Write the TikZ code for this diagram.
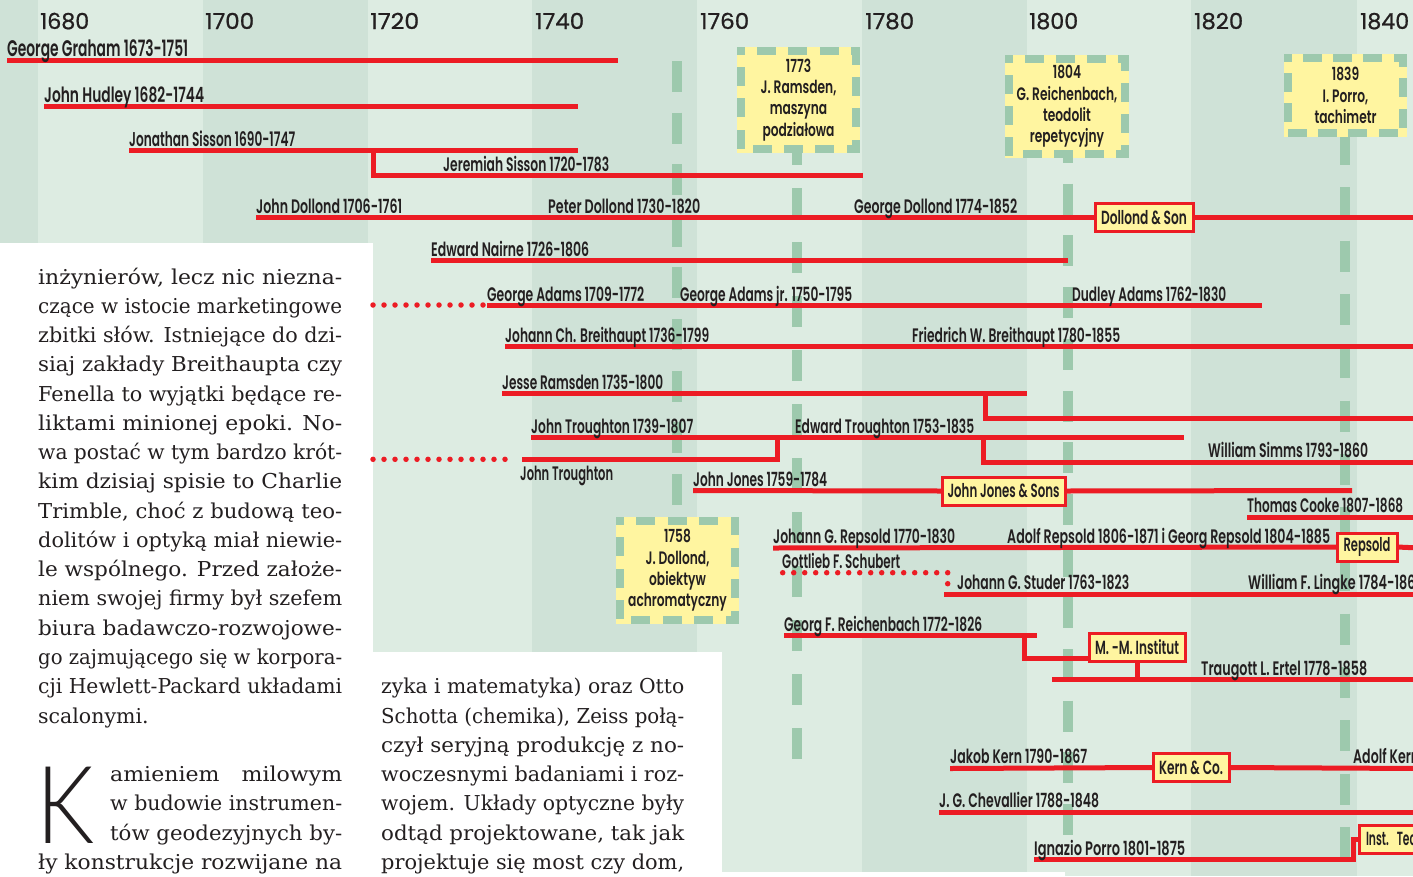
\documentclass[tikz,border=0pt]{standalone}
\usepackage{fontspec}
\usepackage{graphicx}
\usetikzlibrary{decorations}
\IfFontExistsTF{Poppins SemiBold}{\newfontfamily\condfont{Poppins SemiBold}[FakeStretch=0.68]}{%
  \IfFontExistsTF{Poppins Medium}{\newfontfamily\condfont{Poppins Medium}[FakeStretch=0.68,FakeBold=1]}{%
    \newfontfamily\condfont{Poppins}[FakeStretch=0.68,FakeBold=3]}}
\newfontfamily\yearfont{Poppins}[FakeBold=0.8]
\newfontfamily\bodyfont{DejaVu Serif}
\IfFontExistsTF{Lato Light}{\newfontfamily\dropfont{Lato Light}}{\newfontfamily\dropfont{Lato}}
\newcommand\fw[2]{\resizebox{#1pt}{\height}{#2}}
\newlength\jw
\newcommand\jline[2]{\settowidth\jw{#2}\ifdim\jw<\dimexpr #1*93/100\relax\resizebox{#1}{\height}{\makebox[\dimexpr #1*93/100\relax][s]{#2}}\else\resizebox{#1}{\height}{#2}\fi}
\newcommand\evborder[1]{\draw[evedge] ([shift={(4,4)}]#1.north west) -- ([shift={(-4,4)}]#1.north east) -- ([shift={(-4,-4)}]#1.south east) -- ([shift={(4,-4)}]#1.south west) -- cycle;}
\definecolor{bandD}{RGB}{207,226,215}
\definecolor{bandL}{RGB}{221,236,226}
\definecolor{evgreen}{RGB}{157,201,173}
\definecolor{tred}{RGB}{236,28,36}
\definecolor{tyel}{RGB}{255,245,160}
\definecolor{ink}{RGB}{35,31,32}
\tikzset{
  life/.style={draw=tred, line width=5pt, line join=miter},
  dots/.style={draw=tred, line width=5.5pt, line cap=round, dash pattern=on 0pt off 11pt},
  evline/.style={draw=evgreen, line width=10pt, dash pattern=on 31pt off #1},
  evedge/.style={draw=evgreen, line width=8pt, line cap=rect, dash pattern=on 11pt off 19pt, dash expand off},
  evbox/.style={fill=tyel, inner sep=0pt, align=center, text=ink, font=\condfont\fontsize{18}{21.3}\selectfont},
  firm/.style={fill=tyel, draw=tred, line width=3pt, inner sep=0pt, minimum height=25pt, text=ink, font=\condfont\fontsize{19}{20}\selectfont},
  lbl/.style={anchor=base west, inner sep=0pt, text=ink, font=\condfont\fontsize{19.5}{20}\selectfont},
  yr/.style={anchor=base west, inner sep=0pt, text=ink, font=\yearfont\fontsize{22}{24}\selectfont},
  bodyln/.style={anchor=base west, inner sep=0pt, text=ink, font=\bodyfont\fontsize{20.5}{29}\selectfont},
}
\begin{document}
\begin{tikzpicture}[x=1pt,y=-1pt]
\useasboundingbox (0,0) rectangle (1413,876);
\clip (0,0) rectangle (1413,876);
% bands
\fill[bandL] (0,0) rectangle (1413,876);
\foreach \a/\b in {0/38,203/368,532/697,862/1027,1191/1357}{\fill[bandD] (\a,0) rectangle (\b,876);}
% white areas
\fill[white] (0,242.5) rectangle (372.5,876);
\fill[white] (372.5,652) rectangle (722,876);
\fill[white] (722,872) rectangle (1065,876);
% years
\foreach \x/\t in {40/1680,205/1700,370/1720,535/1740,700/1760,865/1780,1029/1800,1194/1820,1360/1840}{\node[yr] (y\t) at (\x,29) {\fw{49}{\t}};}
% event lines
\coordinate (e58a) at (677,61);   \coordinate (e58b) at (677,517);
\coordinate (e73a) at (797,134);  \coordinate (e73b) at (797,759);
\coordinate (e04a) at (1067.5,132); \coordinate (e04b) at (1067.5,835);
\coordinate (e39a) at (1344.7,134); \coordinate (e39b) at (1344.7,858);
\draw[evline=20.6pt] (e58a) -- (e58b);
\draw[evline=23pt] (e73a) -- (e73b);
\draw[evline=20.7pt] (e04a) -- (e04b);
\draw[evline=22.3pt] (e39a) -- (e39b);
% company boxes
\path
  (1144,217.5) node[firm, minimum width=95pt] (dollond) {\fw{86}{Dollond \& Son}}
  (1003.5,491) node[firm, minimum width=120pt] (jjs) {\fw{112}{John Jones \& Sons}}
  (1367,547) node[firm, minimum width=57pt] (repsold) {\fw{47}{Repsold}}
  (1137,647) node[firm, minimum width=93pt] (mmi) {\fw{84}{M. -M. Institut}}
  (1191,767.5) node[firm, minimum width=73pt] (kern) {\fw{64}{Kern \& Co.}}
  (1359.5,839) node[firm, anchor=west, text width=92pt, align=left, inner xsep=5pt] (inst) {\fw{50}{Inst. Tec}};
% life lines
\coordinate (gg1) at (7,60.7);     \coordinate (gg2) at (618,60.7);
\coordinate (jh1) at (44,106.5);   \coordinate (jh2) at (578,106.5);
\coordinate (js1) at (129,150.5);  \coordinate (js2) at (578,150.5);
\coordinate (jsb) at (373.5,150.5); \coordinate (jsk) at (373.5,175.5); \coordinate (jes2) at (863,175.5);
\coordinate (jd1) at (256,217.5);  \coordinate (jd2) at (1420,217.5);
\coordinate (en1) at (431,260.5);  \coordinate (en2) at (1068,260.5);
\coordinate (gad0) at (373,305);   \coordinate (gad1) at (484,305);
\coordinate (ga1) at (487,305);    \coordinate (ga2) at (1262,305);
\coordinate (jcb1) at (505,346.5); \coordinate (jcb2) at (1420,346.5);
\coordinate (jr1) at (502,393.5);  \coordinate (jr2) at (1027,393.5);
\coordinate (jrb) at (985,393.5);  \coordinate (jrk) at (985,418); \coordinate (jr3) at (1420,418);
\coordinate (jt1) at (531,437.5);  \coordinate (jt2) at (1184,437.5);
\coordinate (jtb) at (777,437.5);  \coordinate (jtk) at (777,459.3); \coordinate (jt3) at (522,459.3);
\coordinate (jtd1) at (516,459.3); \coordinate (jtd0) at (373,459.3);
\coordinate (wsb) at (983.5,437.5); \coordinate (wsk) at (983.5,462.7); \coordinate (ws2) at (1420,462.7);
\coordinate (jj1) at (693,490.5);  \coordinate (jj2) at (1352,490.5);
\coordinate (tc1) at (1247,517.5); \coordinate (tc2) at (1420,517.5);
\coordinate (jgr1) at (773,548);   \coordinate (jgr2) at (1420,548);
\coordinate (gfs1) at (782.7,572.7); \coordinate (gfsk) at (947.7,572.7); \coordinate (gfs2) at (947.7,594);
\coordinate (jgs1) at (944,594.5); \coordinate (jgs2) at (1420,594.5);
\coordinate (gfr1) at (784,635.5); \coordinate (gfr2) at (1036.5,635.5); \coordinate (gfrb) at (1024,635.5);
\coordinate (te1) at (1052,679.5); \coordinate (te2) at (1420,679.5);
\coordinate (jk1) at (950,768.5);  \coordinate (jk2) at (1420,768.5);
\coordinate (jgc1) at (939,812.5); \coordinate (jgc2) at (1420,812.5);
\coordinate (ip1) at (1034,859.5); \coordinate (ipk) at (1353.5,859.5);
\draw[life] (gg1) -- (gg2);
\draw[life] (jh1) -- (jh2);
\draw[life] (js1) -- (js2);
\draw[life] (jsb) -- (jsk) -- (jes2);
\draw[life] (jd1) -- (dollond.west);
\draw[life] (dollond.east) -- (jd2);
\draw[life] (en1) -- (en2);
\draw[dots] (gad0) -- (gad1);
\draw[life] (ga1) -- (ga2);
\draw[life] (jcb1) -- (jcb2);
\draw[life] (jr1) -- (jr2);
\draw[life] (jrb) -- (jrk) -- (jr3);
\draw[life] (jt1) -- (jt2);
\draw[life] (jtb) -- (jtk) -- (jt3);
\draw[dots] (jtd0) -- (jtd1);
\draw[life] (wsb) -- (wsk) -- (ws2);
\draw[life] (jj1) -- (jjs.west);
\draw[life] (jjs.east) -- (jj2);
\draw[life] (tc1) -- (tc2);
\draw[life] (jgr1) -- (repsold.west);
\draw[life] (repsold.east) -- (jgr2);
\draw[dots] (gfs1) -- (gfsk) -- (gfs2);
\draw[life] (jgs1) -- (jgs2);
\draw[life] (gfr1) -- (gfr2);
\draw[life] (gfrb) |- ([yshift=-11.5pt]mmi.west);
\draw[life] (mmi.south) -- (mmi.south |- te1);
\draw[life] (te1) -- (te2);
\draw[life] (jk1) -- (kern.west);
\draw[life] (kern.east) -- (jk2);
\draw[life] (jgc1) -- (jgc2);
\draw[life] (ip1) -- (ipk) |- (inst.west);
% company boxes on top of the lines
\foreach \n in {dollond,jjs,repsold,mmi,kern,inst}{\draw[tred, line width=3pt, fill=tyel] (\n.north west) rectangle (\n.south east);}
\path
  (dollond.center) node[firm, draw=none, fill=none, minimum width=95pt] (dollondT) {\fw{86}{Dollond \& Son}}
  (jjs.center) node[firm, draw=none, fill=none, minimum width=120pt] (jjsT) {\fw{112}{John Jones \& Sons}}
  (repsold.center) node[firm, draw=none, fill=none, minimum width=57pt] (repsoldT) {\fw{47}{Repsold}}
  (mmi.center) node[firm, draw=none, fill=none, minimum width=93pt] (mmiT) {\fw{84}{M. -M. Institut}}
  (kern.center) node[firm, draw=none, fill=none, minimum width=73pt] (kernT) {\fw{64}{Kern \& Co.}}
  (inst.west) node[firm, draw=none, fill=none, anchor=west, text width=92pt, align=left, inner xsep=5pt] (instT) {\fw{50}{Inst. Tec}};
% labels
\node[lbl, font=\condfont\fontsize{22.5}{24}\selectfont] (lGG) at (7,56.5) {\fw{181}{George Graham 1673-1751}};
\node[lbl, font=\condfont\fontsize{21}{22}\selectfont] (lJH) at (44,102) {\fw{160}{John Hudley 1682-1744}};
\node[lbl, font=\condfont\fontsize{20}{21}\selectfont] (lJS) at (129,146) {\fw{166}{Jonathan Sisson 1690-1747}};
\node[lbl] (lJeS) at (443,171) {\fw{166}{Jeremiah Sisson 1720-1783}};
\node[lbl] (lJD) at (256,213) {\fw{146}{John Dollond 1706-1761}};
\node[lbl] (lPD) at (548,213) {\fw{152}{Peter Dollond 1730-1820}};
\node[lbl] (lGD) at (854,213) {\fw{163}{George Dollond 1774-1852}};
\node[lbl] (lEN) at (431,256.5) {\fw{158}{Edward Nairne 1726-1806}};
\node[lbl] (lGA) at (487,301.5) {\fw{157}{George Adams 1709-1772}};
\node[lbl] (lGAj) at (680,301.5) {\fw{172}{George Adams jr. 1750-1795}};
\node[lbl] (lDA) at (1072,301.5) {\fw{154}{Dudley Adams 1762-1830}};
\node[lbl] (lJCB) at (505,342) {\fw{204}{Johann Ch. Breithaupt 1736-1799}};
\node[lbl] (lFWB) at (912,342) {\fw{208}{Friedrich W. Breithaupt 1780-1855}};
\node[lbl] (lJR) at (502,389) {\fw{161}{Jesse Ramsden 1735-1800}};
\node[lbl] (lJT) at (531,433) {\fw{162}{John Troughton 1739-1807}};
\node[lbl] (lET) at (795,433) {\fw{179}{Edward Troughton 1753-1835}};
\node[lbl] (lJT2) at (520,480) {\fw{93}{John Troughton}};
\node[lbl] (lWS) at (1208,457.5) {\fw{160}{William Simms 1793-1860}};
\node[lbl] (lJJ) at (693,486.5) {\fw{134}{John Jones 1759-1784}};
\node[lbl] (lTC) at (1247,512.5) {\fw{156}{Thomas Cooke 1807-1868}};
\node[lbl] (lJGR) at (773,543.5) {\fw{182}{Johann G. Repsold 1770-1830}};
\node[lbl] (lAR) at (1007,543.5) {\fw{323}{Adolf Repsold 1806-1871 i Georg Repsold 1804-1885}};
\node[lbl] (lGFS) at (782,568) {\fw{118}{Gottlieb F. Schubert}};
\node[lbl] (lJGS) at (957,589.5) {\fw{172}{Johann G. Studer 1763-1823}};
\node[lbl] (lWFL) at (1248,589.5) {\fw{172}{William F. Lingke 1784-1861}};
\node[lbl] (lGFR) at (784,631.5) {\fw{198}{Georg F. Reichenbach 1772-1826}};
\node[lbl] (lTLE) at (1201,675) {\fw{166}{Traugott L. Ertel 1778-1858}};
\node[lbl] (lJK) at (950,763.5) {\fw{137}{Jakob Kern 1790-1867}};
\node[lbl] (lAK) at (1353,763.5) {\fw{66}{Adolf Kern}};
\node[lbl] (lJGC) at (939,807.5) {\fw{160}{J. G. Chevallier 1788-1848}};
\node[lbl] (lIP) at (1034,855) {\fw{151}{Ignazio Porro 1801-1875}};
% event boxes
\node[evbox, minimum width=123pt, minimum height=106pt] (ev1773) at (798.5,100) {1773\\J. Ramsden,\\maszyna\\podziałowa};
\node[evbox, minimum width=124pt, minimum height=103pt] (ev1804) at (1067,106.5) {1804\\G. Reichenbach,\\teodolit\\repetycyjny};
\node[evbox, minimum width=123pt, minimum height=83pt] (ev1839) at (1345.5,95.5) {1839\\I. Porro,\\tachimetr};
\node[evbox, minimum width=123pt, minimum height=107pt] (ev1758) at (677.5,570.5) {1758\\J. Dollond,\\obiektyw\\achromatyczny};
\evborder{ev1773}
\evborder{ev1804}
\evborder{ev1839}
\evborder{ev1758}
% body text, left column
\foreach \k/\t in {0/{inżynierów, lecz nic niezna-},1/{czące w istocie marketingowe},2/{zbitki słów. Istniejące do dzi-},3/{siaj zakłady Breithaupta czy},4/{Fenella to wyjątki będące re-},5/{liktami minionej epoki. No-},6/{wa postać w tym bardzo krót-},7/{kim dzisiaj spisie to Charlie},8/{Trimble, choć z budową teo-},9/{dolitów i optyką miał niewie-},10/{le wspólnego. Przed założe-},11/{niem swojej firmy był szefem},12/{biura badawczo-rozwojowe-},13/{go zajmującego się w korpora-},14/{cji Hewlett-Packard układami}}
  {\node[bodyln] (tl\k) at (38,284+29.27*\k) {\jline{304pt}{\t}};}
\node[bodyln] (tl15) at (38,284+29.27*15) {scalonymi.};
\node[anchor=base west, inner sep=0pt, text=ink, font=\dropfont\fontsize{108}{108}\selectfont] (dropK) at (36,843) {\fw{58}{K}};
\node[bodyln] (tk1) at (110,284+29.27*17) {\jline{232pt}{amieniem milowym}};
\node[bodyln] (tk2) at (110,284+29.27*18) {\jline{232pt}{w budowie instrumen-}};
\node[bodyln] (tk3) at (110,284+29.27*19) {\jline{232pt}{tów geodezyjnych by-}};
\node[bodyln] (tk4) at (38,284+29.27*20) {\jline{304pt}{ły konstrukcje rozwijane na}};
% body text, middle column
\foreach \k/\t in {14/{zyka i matematyka) oraz Otto},15/{Schotta (chemika), Zeiss połą-},16/{czył seryjną produkcję z no-},17/{woczesnymi badaniami i roz-},18/{wojem. Układy optyczne były},19/{odtąd projektowane, tak jak},20/{projektuje się most czy dom,}}
  {\node[bodyln] (tm\k) at (381,284+29.27*\k) {\jline{303pt}{\t}};}
\end{tikzpicture}
\end{document}
